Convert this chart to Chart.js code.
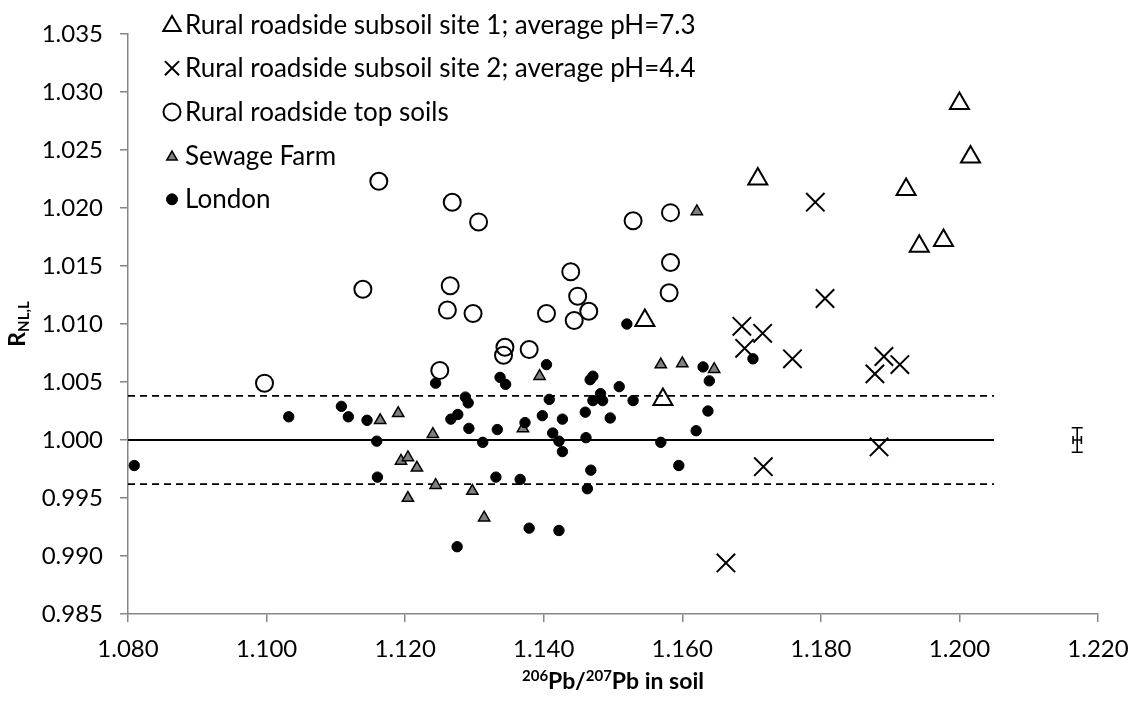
<!DOCTYPE html>
<html><head><meta charset="utf-8">
<script src="https://cdn.jsdelivr.net/npm/chart.js@4.4.0/dist/chart.umd.min.js"></script>
<style>html,body{margin:0;padding:0;background:#fff;}#wrap{width:1136px;height:706px;}</style>
</head><body><div id="wrap"><canvas id="c" width="1136" height="706"></canvas></div>
<script>
// ---------- data ----------
const seriesNames = [
  'Rural roadside subsoil site 1; average pH=7.3',
  'Rural roadside subsoil site 2; average pH=4.4',
  'Rural roadside top soils',
  'Sewage Farm',
  'London'
];
const site1X = [1.2000, 1.2016, 1.1923, 1.1942, 1.1977, 1.1709, 1.1546, 1.1572];
const site1Y = [1.0290, 1.0244, 1.0216, 1.0167, 1.0172, 1.0225, 1.0103, 1.0035];

const site2X = [1.1792, 1.1806, 1.1686, 1.1716, 1.1690, 1.1759, 1.1891, 1.1914, 1.1878, 1.1884, 1.1717, 1.1663];
const site2Y = [1.0205, 1.0122, 1.0098, 1.0092, 1.0079, 1.0070, 1.0072, 1.0065, 1.0057, 0.9994, 0.9977, 0.9894];

const topX = [1.0997, 1.1162, 1.1139, 1.1268, 1.1306, 1.1265, 1.1261, 1.1298, 1.1404, 1.1439, 1.1449,
              1.1465, 1.1444, 1.1529, 1.1583, 1.1583, 1.1581, 1.1250, 1.1344, 1.1342, 1.1379];
const topY = [1.0049, 1.0223, 1.0130, 1.0205, 1.0188, 1.0133, 1.0112, 1.0109, 1.0109, 1.0145, 1.0124,
              1.0111, 1.0103, 1.0189, 1.0196, 1.0153, 1.0127, 1.0060, 1.0080, 1.0073, 1.0078];

const sewageX = [1.1164, 1.1190, 1.1240, 1.1194, 1.1204, 1.1217, 1.1244, 1.1297, 1.1204, 1.1314,
                 1.1370, 1.1394, 1.1569, 1.1600, 1.1646, 1.1621];
const sewageY = [1.0017, 1.0023, 1.0005, 0.9982, 0.9985, 0.9976, 0.9961, 0.9956, 0.9950, 0.9933,
                 1.0010, 1.0055, 1.0065, 1.0066, 1.0061, 1.0197];

const londonX = [1.0809, 1.1032, 1.1108, 1.1118, 1.1145, 1.1159, 1.1160, 1.1244, 1.1287, 1.1291,
                 1.1266, 1.1276, 1.1292, 1.1312, 1.1333, 1.1337, 1.1345, 1.1404, 1.1373, 1.1398,
                 1.1408, 1.1427, 1.1413, 1.1422, 1.1427, 1.1460, 1.1461, 1.1468, 1.1463, 1.1467,
                 1.1471, 1.1471, 1.1482, 1.1485, 1.1496, 1.1509, 1.1529, 1.1569, 1.1595, 1.1620,
                 1.1630, 1.1639, 1.1637, 1.1331, 1.1366, 1.1379, 1.1422, 1.1275, 1.1520, 1.1702];
const londonY = [0.9978, 1.0020, 1.0029, 1.0020, 1.0017, 0.9999, 0.9968, 1.0049, 1.0037, 1.0032,
                 1.0018, 1.0022, 1.0010, 0.9998, 1.0009, 1.0054, 1.0048, 1.0065, 1.0015, 1.0021,
                 1.0035, 1.0018, 1.0006, 0.9999, 0.9990, 1.0024, 1.0002, 0.9974, 0.9958, 1.0052,
                 1.0055, 1.0034, 1.0040, 1.0034, 1.0019, 1.0046, 1.0034, 0.9998, 0.9978, 1.0008,
                 1.0063, 1.0051, 1.0025, 0.9968, 0.9966, 0.9924, 0.9922, 0.9908, 1.0100, 1.0070];

// reference lines
const refLineX = [1.080, 1.205];
const refMid = [1.000, 1.000];
const refUpper = [1.0038, 1.0038];
const refLower = [0.9962, 0.9962];

// representative error bar
const errX = 1.217, errY = 1.000;
const errYRange = [0.99895, 1.00105];
const errXRange = [1.2164, 1.2176];

// axes
const xMin = 1.080, xMax = 1.220, xStep = 0.02;
const yMin = 0.985, yMax = 1.035, yStep = 0.005;

// ---------- helpers ----------
const pts = (xs, ys) => xs.map((x, i) => ({x: x, y: ys[i]}));
const FONT = 'Lato';
const AXIS_GREY = '#868686';

const markerStyles = [
  {pointStyle: 'triangle', radius: 11, borderWidth: 2, bg: 'rgba(0,0,0,0)', border: '#000'},
  {pointStyle: 'crossRot', radius: 13, borderWidth: 2, bg: 'rgba(0,0,0,0)', border: '#000'},
  {pointStyle: 'circle', radius: 8.5, borderWidth: 2, bg: 'rgba(0,0,0,0)', border: '#000'},
  {pointStyle: 'triangle', radius: 6.5, borderWidth: 1.5, bg: '#808080', border: '#000'},
  {pointStyle: 'circle', radius: 5.2, borderWidth: 1, bg: '#000', border: '#000'}
];
const seriesData = [pts(site1X, site1Y), pts(site2X, site2Y), pts(topX, topY), pts(sewageX, sewageY), pts(londonX, londonY)];
const drawOrder = [4, 3, 2, 1, 0];

const datasets = seriesData.map((d, i) => ({
  label: seriesNames[i],
  data: d,
  pointStyle: markerStyles[i].pointStyle,
  pointRadius: markerStyles[i].radius,
  pointBorderWidth: markerStyles[i].borderWidth,
  pointBackgroundColor: markerStyles[i].bg,
  pointBorderColor: markerStyles[i].border,
  showLine: false,
  order: drawOrder[i] + 10
}));
const lineDs = (ys, dash) => ({
  label: '_ref',
  data: pts(refLineX, ys),
  showLine: true,
  pointRadius: 0,
  borderColor: '#000',
  borderWidth: dash ? 1.6 : 2,
  borderDash: dash ? [7, 5] : [],
  order: 30
});
datasets.push(lineDs(refMid, false), lineDs(refUpper, true), lineDs(refLower, true));

// custom legend, titles and error bar
const extras = {
  id: 'extras',
  afterDatasetsDraw(chart) {
    const ctx = chart.ctx;
    const xs = chart.scales.x, ys = chart.scales.y;
    ctx.save();
    // error bar
    ctx.strokeStyle = '#000';
    ctx.lineWidth = 1.6;
    const ex = xs.getPixelForValue(errX), ey = ys.getPixelForValue(errY);
    const y1 = ys.getPixelForValue(errYRange[0]), y2 = ys.getPixelForValue(errYRange[1]);
    const x1 = xs.getPixelForValue(errXRange[0]), x2 = xs.getPixelForValue(errXRange[1]);
    ctx.beginPath();
    ctx.moveTo(ex, y1); ctx.lineTo(ex, y2);
    ctx.moveTo(ex - 5.5, y1); ctx.lineTo(ex + 5.5, y1);
    ctx.moveTo(ex - 5.5, y2); ctx.lineTo(ex + 5.5, y2);
    ctx.moveTo(x1, ey); ctx.lineTo(x2, ey);
    ctx.moveTo(x1, ey - 4); ctx.lineTo(x1, ey + 4);
    ctx.moveTo(x2, ey - 4); ctx.lineTo(x2, ey + 4);
    ctx.stroke();

    // legend
    const baselines = [33.5, 77.2, 120.9, 164.6, 208.3];
    const legendSizes = [10, 10, 8.5, 6, 5.5];
    ctx.font = '26px ' + FONT;
    ctx.textBaseline = 'alphabetic';
    ctx.textAlign = 'left';
    seriesNames.forEach((name, i) => {
      const m = markerStyles[i];
      const cy = baselines[i] - 9;
      ctx.fillStyle = m.bg;
      ctx.strokeStyle = m.border;
      ctx.lineWidth = m.borderWidth;
      Chart.helpers.drawPoint(ctx, {pointStyle: m.pointStyle, radius: legendSizes[i], borderWidth: m.borderWidth, rotation: 0}, 172, cy + (m.pointStyle === 'triangle' ? 1.5 : 0));
      ctx.fillStyle = '#000';
      ctx.fillText(name, 185, baselines[i]);
    });

    // x-axis title with superscripts
    const big = 'bold 23px ' + FONT, small = 'bold 15px ' + FONT;
    const parts = [['206', true], ['Pb/', false], ['207', true], ['Pb in soil', false]];
    let w = 0;
    parts.forEach(p => { ctx.font = p[1] ? small : big; w += ctx.measureText(p[0]).width; });
    let x = (xs.left + xs.right) / 2 - w / 2;
    const base = 689;
    parts.forEach(p => {
      ctx.font = p[1] ? small : big;
      ctx.fillText(p[0], x, p[1] ? base - 8 : base);
      x += ctx.measureText(p[0]).width;
    });

    // y-axis title with subscript
    ctx.translate(25, (ys.top + ys.bottom) / 2);
    ctx.rotate(-Math.PI / 2);
    const yparts = [['R', false], ['NL,L', true]];
    let yw = 0;
    yparts.forEach(p => { ctx.font = p[1] ? 'bold 15px ' + FONT : 'bold 23px ' + FONT; yw += ctx.measureText(p[0]).width; });
    let px = -yw / 2;
    yparts.forEach(p => {
      ctx.font = p[1] ? 'bold 15px ' + FONT : 'bold 23px ' + FONT;
      ctx.fillText(p[0], px, p[1] ? 4 : 0);
      px += ctx.measureText(p[0]).width;
    });
    ctx.restore();
  }
};

new Chart(document.getElementById('c'), {
  type: 'scatter',
  data: {datasets: datasets},
  options: {
    responsive: false,
    animation: false,
    events: [],
    layout: {padding: {left: 0, right: 38, top: 34, bottom: 0}},
    plugins: {legend: {display: false}, tooltip: {enabled: false}, title: {display: false}},
    scales: {
      x: {
        type: 'linear', min: xMin, max: xMax,
        afterFit: s => { s.height = 92; s.paddingLeft = 0; s.paddingRight = 0; },
        ticks: {stepSize: xStep, color: '#000', font: {family: FONT, size: 24}, padding: 13,
                callback: v => v.toFixed(3)},
        grid: {display: true, drawOnChartArea: false, drawTicks: true, tickLength: 8, color: AXIS_GREY, lineWidth: 1.5},
        border: {display: true, color: AXIS_GREY, width: 1.5}
      },
      y: {
        type: 'linear', min: yMin, max: yMax,
        afterFit: s => { s.width = 128; s.paddingTop = 0; s.paddingBottom = 0; },
        ticks: {stepSize: yStep, color: '#000', font: {family: FONT, size: 24}, padding: 17,
                callback: v => v.toFixed(3)},
        grid: {display: true, drawOnChartArea: false, drawTicks: true, tickLength: 8, color: AXIS_GREY, lineWidth: 1.5},
        border: {display: true, color: AXIS_GREY, width: 1.5}
      }
    }
  },
  plugins: [extras]
});
</script>
</body></html>
